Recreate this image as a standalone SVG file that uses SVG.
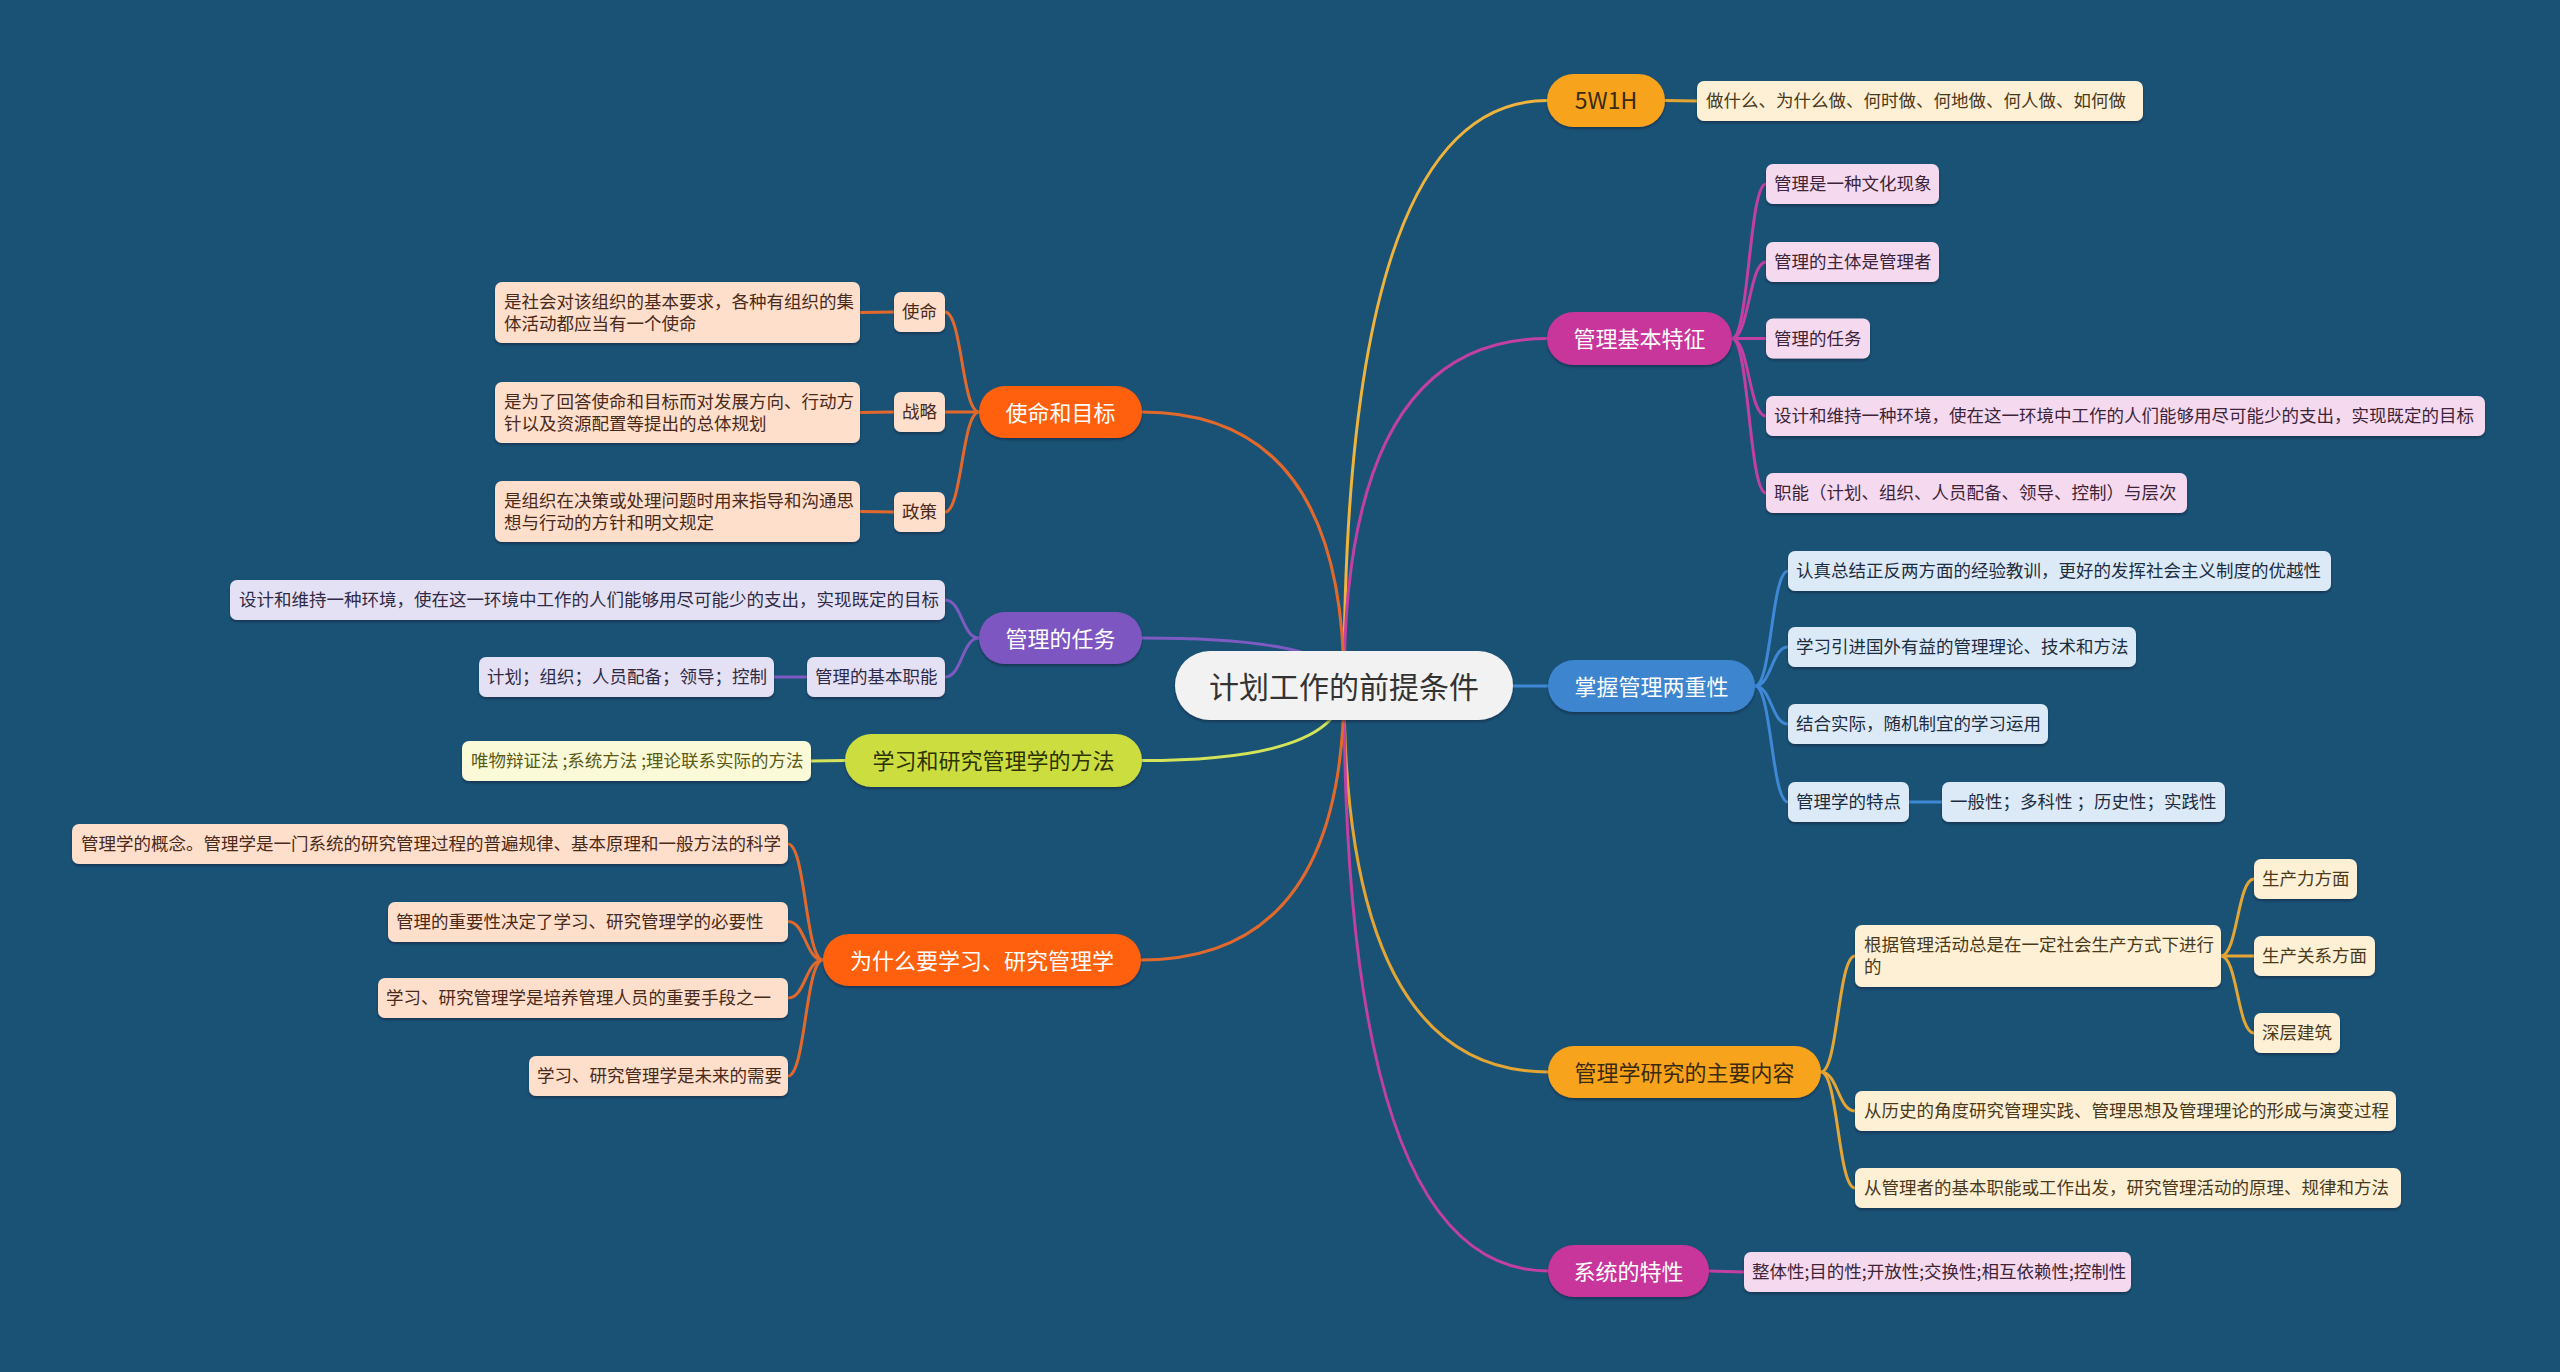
<svg xmlns="http://www.w3.org/2000/svg" width="2560" height="1372" viewBox="0 0 2560 1372">
<defs>
<filter id="sh" x="-10%" y="-30%" width="120%" height="170%">
<feDropShadow dx="0" dy="2" stdDeviation="1.2" flood-color="#08233a" flood-opacity="0.55"/>
</filter>
<style>
text{font-family:"Noto Sans CJK SC","Noto Sans",sans-serif;dominant-baseline:central;transform:translateY(-1.5px)}
.root{font-size:30px;text-anchor:middle;fill:#333333}
.m{font-size:22px;text-anchor:middle}
.s{font-size:17.5px}
.wt{fill:#ffffff}
.dk{fill:#3a2a10}
.gt{fill:#2c3300}
.n rect{filter:url(#sh)}
#connectors path{fill:none;stroke-width:3;stroke-linecap:round}
.cy{stroke:#F0B43C}.cm{stroke:#C23FA4}.cb{stroke:#3F88D6}.cg{stroke:#E3A634}
.co{stroke:#E2692B}.cp{stroke:#7D5BC2}.cl{stroke:#D3E35A}
.fy{fill:#F7A41E}.fm{fill:#C8369B}.fb{fill:#3C85CE}.fo{fill:#FF600C}.fp{fill:#7E57C2}.fl{fill:#CCDD3F}
.sp{fill:#F5DAEF}.spt{fill:#3d2438}
.sb{fill:#DCEAF7}.sbt{fill:#1c2d40}
.sc{fill:#FDF0D5}.sct{fill:#4a3a1c}
.so{fill:#FDDFCC}.sot{fill:#4a2a1a}
.sv{fill:#E5E1F4}.svt{fill:#2f2a45}
.sy{fill:#FAFAD9}.syt{fill:#5b5b15}
</style>
</defs>
<rect width="2560" height="1372" fill="#1a5276"/>

<g id="connectors">
<path class="cy" d="M1344 686 Q1344 100.5 1547 100.5"/>
<path class="cm" d="M1344 686 Q1344 338.5 1547 338.5"/>
<path class="cb" d="M1344 686 L1548 686"/>
<path class="cg" d="M1344 686 Q1344 1072 1548 1072"/>
<path class="cm" d="M1344 686 Q1344 1271 1548 1271"/>
<path class="co" d="M1344 686 Q1344 412 1142 412"/>
<path class="cp" d="M1344 686 Q1344 638 1142 638"/>
<path class="cl" d="M1344 686 Q1344 760.5 1142 760.5"/>
<path class="co" d="M1344 686 Q1344 960 1141 960"/>

<path class="cg" d="M1665 100.5 L1697 101"/>

<path class="cm" d="M1732 338.5 C1749 338.5 1749 184 1766 184"/>
<path class="cm" d="M1732 338.5 C1749 338.5 1749 262 1766 262"/>
<path class="cm" d="M1732 338.5 L1766 338.5"/>
<path class="cm" d="M1732 338.5 C1749 338.5 1749 416 1766 416"/>
<path class="cm" d="M1732 338.5 C1749 338.5 1749 493 1766 493"/>

<path class="cb" d="M1755 686 C1771.5 686 1771.5 571 1788 571"/>
<path class="cb" d="M1755 686 C1771.5 686 1771.5 647 1788 647"/>
<path class="cb" d="M1755 686 C1771.5 686 1771.5 724 1788 724"/>
<path class="cb" d="M1755 686 C1771.5 686 1771.5 802 1788 802"/>
<path class="cb" d="M1909 802 L1942 802"/>

<path class="cg" d="M1821 1072 C1838 1072 1838 956 1855 956"/>
<path class="cg" d="M1821 1072 C1838 1072 1838 1111 1855 1111"/>
<path class="cg" d="M1821 1072 C1838 1072 1838 1188 1855 1188"/>
<path class="cg" d="M2221 956 C2237.5 956 2237.5 879 2254 879"/>
<path class="cg" d="M2221 956 L2254 956"/>
<path class="cg" d="M2221 956 C2237.5 956 2237.5 1033 2254 1033"/>

<path class="cm" d="M1709 1271 L1744 1272"/>

<path class="co" d="M979 412 C962 412 962 312 945 312"/>
<path class="co" d="M979 412 L945 412"/>
<path class="co" d="M979 412 C962 412 962 512 945 512"/>
<path class="co" d="M894 312 L860 312.5"/>
<path class="co" d="M894 412 L860 412.5"/>
<path class="co" d="M894 512 L860 511.5"/>

<path class="cp" d="M979 638 C962 638 962 600 945 600"/>
<path class="cp" d="M979 638 C962 638 962 677 945 677"/>
<path class="cp" d="M807 677 L774 677"/>

<path class="cl" d="M845 760.5 L811 761"/>

<path class="co" d="M823 960 C805.5 960 805.5 844 788 844"/>
<path class="co" d="M823 960 C805.5 960 805.5 921.5 788 921.5"/>
<path class="co" d="M823 960 C805.5 960 805.5 998 788 998"/>
<path class="co" d="M823 960 C805.5 960 805.5 1076 788 1076"/>
</g>

<g id="root" class="n">
<rect x="1175" y="651" width="338" height="69" rx="34.5" fill="#F2F2F2"/>
<text class="root" x="1344" y="686">计划工作的前提条件</text>
</g>

<!-- right main branches -->
<g id="n-5w1h" class="n">
<rect class="fy" x="1547" y="74" width="118" height="53" rx="26.5"/>
<text class="m dk" x="1606" y="100.5" style="font-size:23px">5W1H</text>
</g>
<g id="n-5w1h-1" class="n">
<rect class="sc" x="1697" y="81" width="446" height="40" rx="7"/>
<text class="s sct" x="1706" y="101">做什么、为什么做、何时做、何地做、何人做、如何做</text>
</g>

<g id="n-feature" class="n">
<rect class="fm" x="1547" y="312" width="185" height="53" rx="26.5"/>
<text class="m wt" x="1639.5" y="338.5">管理基本特征</text>
</g>
<g id="n-feature-1" class="n">
<rect class="sp" x="1766" y="164" width="173" height="40" rx="7"/>
<text class="s spt" x="1774" y="184">管理是一种文化现象</text>
</g>
<g id="n-feature-2" class="n">
<rect class="sp" x="1766" y="242" width="173" height="40" rx="7"/>
<text class="s spt" x="1774" y="262">管理的主体是管理者</text>
</g>
<g id="n-feature-3" class="n">
<rect class="sp" x="1766" y="318.5" width="104" height="40" rx="7"/>
<text class="s spt" x="1774" y="338.5">管理的任务</text>
</g>
<g id="n-feature-4" class="n">
<rect class="sp" x="1766" y="396" width="719" height="40" rx="7"/>
<text class="s spt" x="1774" y="416">设计和维持一种环境，使在这一环境中工作的人们能够用尽可能少的支出，实现既定的目标</text>
</g>
<g id="n-feature-5" class="n">
<rect class="sp" x="1766" y="473" width="421" height="40" rx="7"/>
<text class="s spt" x="1774" y="493">职能（计划、组织、人员配备、领导、控制）与层次</text>
</g>

<g id="n-dual" class="n">
<rect class="fb" x="1548" y="660" width="207" height="52" rx="26"/>
<text class="m wt" x="1651.5" y="686">掌握管理两重性</text>
</g>
<g id="n-dual-1" class="n">
<rect class="sb" x="1788" y="551" width="543" height="40" rx="7"/>
<text class="s sbt" x="1796" y="571">认真总结正反两方面的经验教训，更好的发挥社会主义制度的优越性</text>
</g>
<g id="n-dual-2" class="n">
<rect class="sb" x="1788" y="627" width="348" height="40" rx="7"/>
<text class="s sbt" x="1796" y="647">学习引进国外有益的管理理论、技术和方法</text>
</g>
<g id="n-dual-3" class="n">
<rect class="sb" x="1788" y="704" width="260" height="40" rx="7"/>
<text class="s sbt" x="1796" y="724">结合实际，随机制宜的学习运用</text>
</g>
<g id="n-dual-4" class="n">
<rect class="sb" x="1788" y="782" width="121" height="40" rx="7"/>
<text class="s sbt" x="1796" y="802">管理学的特点</text>
</g>
<g id="n-dual-4-1" class="n">
<rect class="sb" x="1942" y="782" width="283" height="40" rx="7"/>
<text class="s sbt" x="1950" y="802">一般性；多科性 ；历史性；实践性</text>
</g>

<g id="n-content" class="n">
<rect class="fy" x="1548" y="1046" width="273" height="52" rx="26"/>
<text class="m dk" x="1684.5" y="1072">管理学研究的主要内容</text>
</g>
<g id="n-content-1" class="n">
<rect class="sc" x="1855" y="925" width="366" height="62" rx="7"/>
<text class="s sct" x="1864" y="945">根据管理活动总是在一定社会生产方式下进行</text>
<text class="s sct" x="1864" y="967">的</text>
</g>
<g id="n-content-1-1" class="n">
<rect class="sc" x="2254" y="859" width="103" height="40" rx="7"/>
<text class="s sct" x="2262" y="879">生产力方面</text>
</g>
<g id="n-content-1-2" class="n">
<rect class="sc" x="2254" y="936" width="121" height="40" rx="7"/>
<text class="s sct" x="2262" y="956">生产关系方面</text>
</g>
<g id="n-content-1-3" class="n">
<rect class="sc" x="2254" y="1013" width="86" height="40" rx="7"/>
<text class="s sct" x="2262" y="1033">深层建筑</text>
</g>
<g id="n-content-2" class="n">
<rect class="sc" x="1855" y="1091" width="541" height="40" rx="7"/>
<text class="s sct" x="1864" y="1111">从历史的角度研究管理实践、管理思想及管理理论的形成与演变过程</text>
</g>
<g id="n-content-3" class="n">
<rect class="sc" x="1855" y="1168" width="546" height="40" rx="7"/>
<text class="s sct" x="1864" y="1188">从管理者的基本职能或工作出发，研究管理活动的原理、规律和方法</text>
</g>

<g id="n-system" class="n">
<rect class="fm" x="1548" y="1245" width="161" height="52" rx="26"/>
<text class="m wt" x="1628.5" y="1271">系统的特性</text>
</g>
<g id="n-system-1" class="n">
<rect class="sp" x="1744" y="1252" width="387" height="40" rx="7"/>
<text class="s spt" x="1752" y="1272">整体性;目的性;开放性;交换性;相互依赖性;控制性</text>
</g>

<!-- left main branches -->
<g id="n-mission" class="n">
<rect class="fo" x="979" y="386" width="163" height="52" rx="26"/>
<text class="m wt" x="1060.5" y="412">使命和目标</text>
</g>
<g id="n-mission-1" class="n">
<rect class="so" x="894" y="292" width="51" height="40" rx="7"/>
<text class="s sot" x="902" y="312">使命</text>
</g>
<g id="n-mission-1-1" class="n">
<rect class="so" x="495" y="282" width="365" height="61" rx="7"/>
<text class="s sot" x="504" y="302">是社会对该组织的基本要求，各种有组织的集</text>
<text class="s sot" x="504" y="324">体活动都应当有一个使命</text>
</g>
<g id="n-mission-2" class="n">
<rect class="so" x="894" y="392" width="51" height="40" rx="7"/>
<text class="s sot" x="902" y="412">战略</text>
</g>
<g id="n-mission-2-1" class="n">
<rect class="so" x="495" y="382" width="365" height="61" rx="7"/>
<text class="s sot" x="504" y="402">是为了回答使命和目标而对发展方向、行动方</text>
<text class="s sot" x="504" y="424">针以及资源配置等提出的总体规划</text>
</g>
<g id="n-mission-3" class="n">
<rect class="so" x="894" y="492" width="51" height="40" rx="7"/>
<text class="s sot" x="902" y="512">政策</text>
</g>
<g id="n-mission-3-1" class="n">
<rect class="so" x="495" y="481" width="365" height="61" rx="7"/>
<text class="s sot" x="504" y="501">是组织在决策或处理问题时用来指导和沟通思</text>
<text class="s sot" x="504" y="523">想与行动的方针和明文规定</text>
</g>

<g id="n-task" class="n">
<rect class="fp" x="979" y="612" width="163" height="52" rx="26"/>
<text class="m wt" x="1060.5" y="638">管理的任务</text>
</g>
<g id="n-task-1" class="n">
<rect class="sv" x="230" y="580" width="715" height="40" rx="7"/>
<text class="s svt" x="239" y="600">设计和维持一种环境，使在这一环境中工作的人们能够用尽可能少的支出，实现既定的目标</text>
</g>
<g id="n-task-2" class="n">
<rect class="sv" x="807" y="657" width="138" height="40" rx="7"/>
<text class="s svt" x="815" y="677">管理的基本职能</text>
</g>
<g id="n-task-2-1" class="n">
<rect class="sv" x="479" y="657" width="295" height="40" rx="7"/>
<text class="s svt" x="487" y="677">计划；组织；人员配备；领导；控制</text>
</g>

<g id="n-method" class="n">
<rect class="fl" x="845" y="734" width="297" height="53" rx="26.5"/>
<text class="m gt" x="993.5" y="760.5">学习和研究管理学的方法</text>
</g>
<g id="n-method-1" class="n">
<rect class="sy" x="462" y="741" width="349" height="40" rx="7"/>
<text class="s syt" x="471" y="761">唯物辩证法 ;系统方法 ;理论联系实际的方法</text>
</g>

<g id="n-why" class="n">
<rect class="fo" x="823" y="934" width="318" height="52" rx="26"/>
<text class="m wt" x="982" y="960">为什么要学习、研究管理学</text>
</g>
<g id="n-why-1" class="n">
<rect class="so" x="72" y="824" width="716" height="40" rx="7"/>
<text class="s sot" x="81" y="844">管理学的概念。管理学是一门系统的研究管理过程的普遍规律、基本原理和一般方法的科学</text>
</g>
<g id="n-why-2" class="n">
<rect class="so" x="388" y="902" width="400" height="40" rx="7"/>
<text class="s sot" x="396" y="921.5">管理的重要性决定了学习、研究管理学的必要性</text>
</g>
<g id="n-why-3" class="n">
<rect class="so" x="378" y="978" width="410" height="40" rx="7"/>
<text class="s sot" x="386" y="998">学习、研究管理学是培养管理人员的重要手段之一</text>
</g>
<g id="n-why-4" class="n">
<rect class="so" x="529" y="1056" width="259" height="40" rx="7"/>
<text class="s sot" x="537" y="1076">学习、研究管理学是未来的需要</text>
</g>
</svg>
